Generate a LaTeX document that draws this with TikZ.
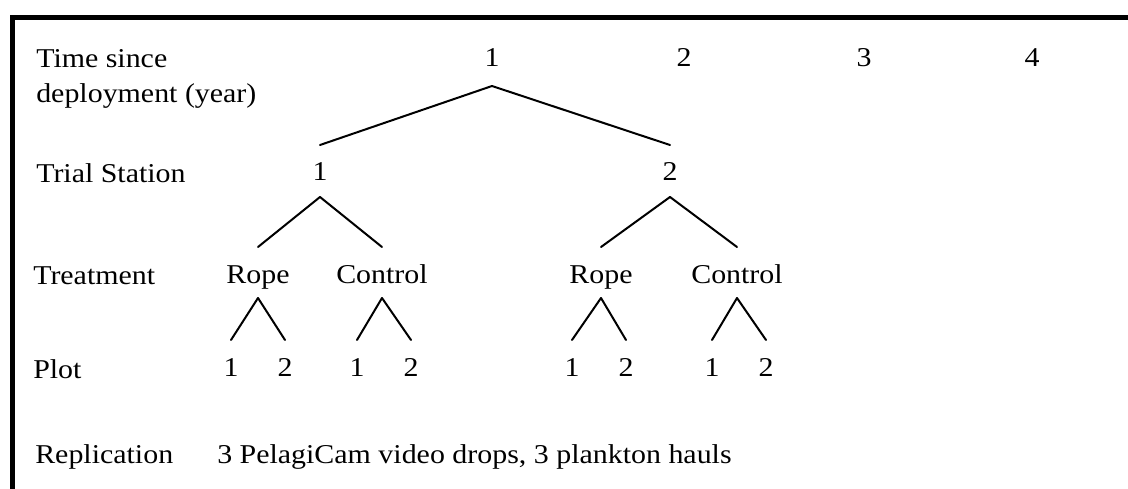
\documentclass[tikz,border=0pt]{standalone}
\usepackage{fontspec}
\setmainfont[FakeStretch=1.1]{Liberation Serif}
\begin{document}
\begin{tikzpicture}[x=0.75pt,y=-0.75pt,
  txt/.style={inner sep=0pt,font=\fontsize{20.4}{24}\selectfont},
  rowlabel/.style={txt,anchor=base west},
  level/.style={txt,anchor=base},
  branch/.style={line width=1.5pt,line cap=round},
  frame/.style={line width=3.75pt,line join=miter}]
\useasboundingbox (0,0) rectangle (1128,489);

% frame along the top and left edges
\draw[frame] (12.5,489) -- (12.5,17.5) -- (1128,17.5);

% row headings
\node[rowlabel] (rowtime)    at (36,67)  {Time since};
\node[rowlabel] (rowtimeb)   at (36,102) {deployment (year)};
\node[rowlabel] (rowstation) at (36,182) {Trial Station};
\node[rowlabel] (rowtreat)   at (33,284) {Treatment};
\node[rowlabel] (rowplot)    at (33,378) {Plot};
\node[rowlabel] (rowrep)     at (35,463) {Replication};
\node[rowlabel] (repnote)    at (217,463) {3 PelagiCam video drops, 3 plankton hauls};

% years
\node[level] (y1) at (492,66)  {1};
\node[level] (y2) at (684,66)  {2};
\node[level] (y3) at (864,66)  {3};
\node[level] (y4) at (1032,66) {4};

% stations
\node[level] (s1) at (320,180) {1};
\node[level] (s2) at (670,180) {2};

% treatments
\node[level] (s1r) at (258,283) {Rope};
\node[level] (s1c) at (382,283) {Control};
\node[level] (s2r) at (601,283) {Rope};
\node[level] (s2c) at (737,283) {Control};

% plots
\node[level] (s1ra) at (231,376) {1};
\node[level] (s1rb) at (285,376) {2};
\node[level] (s1ca) at (357,376) {1};
\node[level] (s1cb) at (411,376) {2};
\node[level] (s2ra) at (572,376) {1};
\node[level] (s2rb) at (626,376) {2};
\node[level] (s2ca) at (712,376) {1};
\node[level] (s2cb) at (766,376) {2};

% year -> stations
\foreach \c in {s1,s2}
  \draw[branch] ([yshift=-15pt]y1.base) -- ([yshift=26.25pt]\c.base);

% stations -> treatments
\foreach \p/\c in {s1/s1r,s1/s1c,s2/s2r,s2/s2c}
  \draw[branch] ([yshift=-12.75pt]\p.base) -- ([yshift=27pt]\c.base);

% treatments -> plots
\foreach \p in {s1r,s1c,s2r,s2c}{
  \draw[branch] ([yshift=-11.25pt]\p.base) -- ([yshift=27pt]\p a.base);
  \draw[branch] ([yshift=-11.25pt]\p.base) -- ([yshift=27pt]\p b.base);
}
\end{tikzpicture}
\end{document}
